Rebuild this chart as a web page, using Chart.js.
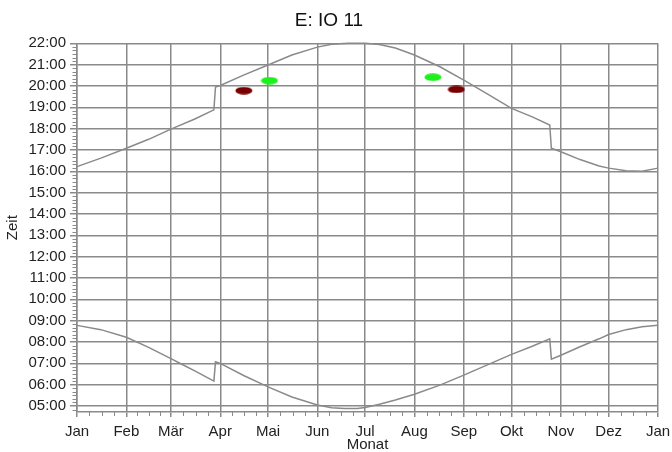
<!DOCTYPE html>
<html>
<head>
<meta charset="utf-8">
<script src="https://cdn.jsdelivr.net/npm/chart.js@4"></script>
<style>
  html, body { margin: 0; padding: 0; background: #fff; }
  #wrap { width: 672px; height: 452px; }
</style>
</head>
<body>
<div id="wrap"><canvas id="chart" width="672" height="452"></canvas></div>
<script>
// Monatsanfaenge (Tag im Jahr) und Beschriftung
const monatStart = [0, 31, 59, 90, 120, 151, 181, 212, 243, 273, 304, 334, 365];
const monatLabel = ['Jan', 'Feb', 'Mär', 'Apr', 'Mai', 'Jun', 'Jul', 'Aug', 'Sep', 'Okt', 'Nov', 'Dez', 'Jan'];
const stunden = [5, 6, 7, 8, 9, 10, 11, 12, 13, 14, 15, 16, 17, 18, 19, 20, 21, 22];

// obere Kurve (Sonnenuntergang), Stunden dezimal
const abendTag = [0, 15, 31, 45, 59, 74, 86, 87, 90, 105, 120, 135, 151, 160, 170, 181, 190, 200, 212, 228, 243, 258, 273, 286, 297, 298, 304, 316, 328, 334, 345, 355, 365];
const abendZeit = [16.22, 16.62, 17.08, 17.5, 17.98, 18.45, 18.88, 19.95, 20.02, 20.52, 20.98, 21.45, 21.82, 21.96, 22.0, 22.0, 21.94, 21.78, 21.45, 20.9, 20.27, 19.62, 18.95, 18.55, 18.17, 17.08, 16.92, 16.55, 16.25, 16.15, 16.03, 16.0, 16.15];

// untere Kurve (Sonnenaufgang)
const morgenTag = [0, 15, 31, 45, 59, 64, 74, 86, 87, 90, 105, 117, 120, 135, 151, 160, 168, 176, 181, 190, 200, 212, 228, 243, 256, 273, 286, 297, 298, 304, 316, 328, 334, 345, 355, 365];
const morgenZeit = [8.78, 8.58, 8.22, 7.75, 7.22, 7.03, 6.65, 6.17, 7.07, 7.0, 6.42, 6.0, 5.9, 5.42, 5.05, 4.92, 4.88, 4.88, 4.93, 5.08, 5.28, 5.55, 5.98, 6.45, 6.87, 7.42, 7.8, 8.15, 7.2, 7.38, 7.78, 8.15, 8.35, 8.58, 8.72, 8.78];

// Beobachtungen
const gruenTag = [120.9, 223.6];
const gruenZeit = [20.25, 20.41];
const rotTag = [104.8, 238.3];
const rotZeit = [19.78, 19.84];

const grau = '#8a8a8a';
const schrift = "'Liberation Sans', Arial, sans-serif";

function paare(xs, ys) {
    return xs.map((x, i) => ({ x: x, y: ys[i] }));
}

function fleck(farbe) {
    let c = document.createElement('canvas');
    c.width = 18; c.height = 8;
    let g = c.getContext('2d');
    g.fillStyle = farbe;
    g.beginPath();
    g.ellipse(9, 4, 8.5, 3.8, 0, 0, Math.PI * 2);
    g.fill();
    return c;
}

// kleine Zwischenstriche an den Achsen
const nebenStriche = {
    id: 'nebenStriche',
    afterDraw(chart) {
        let ctx = chart.ctx;
        let xs = chart.scales.x, ys = chart.scales.y;
        ctx.save();
        ctx.strokeStyle = grau;
        ctx.lineWidth = 1;
        ctx.beginPath();
        for (let h = Math.ceil(ys.min * 6); h <= ys.max * 6; h++) {
            if (h % 6 === 0) continue;
            let py = Math.round(ys.getPixelForValue(h / 6)) + 0.5;
            ctx.moveTo(xs.left - 4.5, py);
            ctx.lineTo(xs.left, py);
        }
        for (let i = 0; i < monatStart.length - 1; i++) {
            let a = monatStart[i], b = monatStart[i + 1];
            for (let k = 1; k < 4; k++) {
                let px = Math.round(xs.getPixelForValue(a + (b - a) * k / 4)) + 0.5;
                ctx.moveTo(px, ys.bottom);
                ctx.lineTo(px, ys.bottom + 4);
            }
        }
        ctx.stroke();
        ctx.restore();
    }
};

let ctx = document.getElementById('chart').getContext('2d');
new Chart(ctx, {
    type: 'scatter',
    data: {
        datasets: [
            {
                data: paare(abendTag, abendZeit),
                showLine: true,
                borderColor: grau,
                borderWidth: 1.5,
                pointRadius: 0,
                tension: 0,
                clip: 4
            },
            {
                data: paare(morgenTag, morgenZeit),
                showLine: true,
                borderColor: grau,
                borderWidth: 1.5,
                pointRadius: 0,
                tension: 0,
                clip: 4
            },
            {
                data: paare(gruenTag, gruenZeit),
                pointStyle: fleck('#1ef01e'),
                pointRadius: 8
            },
            {
                data: paare(rotTag, rotZeit),
                pointStyle: fleck('#780000'),
                pointRadius: 8
            }
        ]
    },
    options: {
        responsive: false,
        animation: false,
        layout: { padding: { left: 0, right: 14, top: 0, bottom: 0 } },
        plugins: {
            legend: { display: false },
            tooltip: { enabled: false },
            title: {
                display: true,
                text: 'E: IO 11',
                color: '#111',
                font: { family: schrift, size: 19, weight: 'normal' },
                padding: { top: 9, bottom: 11.5 }
            }
        },
        scales: {
            x: {
                type: 'linear',
                min: 0,
                max: 365,
                afterBuildTicks: s => { s.ticks = monatStart.map(v => ({ value: v })); },
                afterFit: s => { s.height = 40; s.paddingLeft = 0; s.paddingRight = 0; },
                ticks: {
                    autoSkip: false,
                    maxRotation: 0,
                    padding: 6,
                    color: '#222',
                    font: { family: schrift, size: 15 },
                    callback: (v, i) => monatLabel[i]
                },
                grid: { color: grau, lineWidth: 1.5, tickLength: 5, tickColor: grau },
                border: { color: grau, width: 1.5 },
                title: {
                    display: true,
                    text: 'Monat',
                    color: '#222',
                    font: { family: schrift, size: 15, lineHeight: 1 },
                    padding: { top: 0, bottom: 0 }
                }
            },
            y: {
                type: 'linear',
                min: 4.72,
                max: 22,
                afterBuildTicks: s => { s.ticks = stunden.map(v => ({ value: v })); },
                afterFit: s => { s.width = 77; },
                ticks: {
                    autoSkip: false,
                    padding: 4,
                    color: '#222',
                    font: { family: schrift, size: 15 },
                    callback: v => String(v).padStart(2, '0') + ':00'
                },
                grid: { color: grau, lineWidth: 1.5, tickLength: 7, tickColor: grau },
                border: { color: grau, width: 1.5 },
                title: {
                    display: true,
                    text: 'Zeit',
                    color: '#222',
                    font: { family: schrift, size: 15 },
                    padding: { top: 4, bottom: 4 }
                }
            }
        }
    },
    plugins: [nebenStriche]
});
</script>
</body>
</html>
